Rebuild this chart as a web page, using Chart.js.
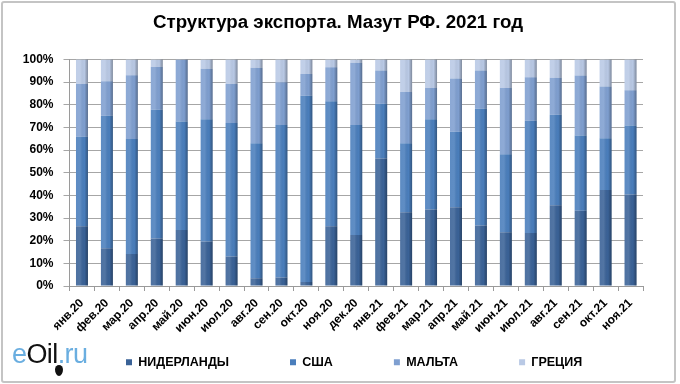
<!DOCTYPE html>
<html>
<head>
<meta charset="utf-8">
<script src="https://cdn.jsdelivr.net/npm/chart.js@4/dist/chart.umd.min.js"></script>
<style>
    html, body { margin: 0; padding: 0; background: #fff; }
    #wrap { position: relative; width: 680px; height: 384px; }
    #frame { position: absolute; left: 1px; top: 1px; width: 671px; height: 378px; border: 2px solid #c4c4c4; border-radius: 3px; pointer-events: none; }
    #logo { position: absolute; left: 12px; top: 339px; font-family: Arial, 'Liberation Sans', sans-serif; font-size: 27px; letter-spacing: -0.6px; }
    #logo .b { color: #6aaee0; }
    #logo .k { color: #111; }
    #drop { position: absolute; left: 43px; top: 26px; width: 8px; height: 11px; background: #111; border-radius: 50% 50% 50% 50% / 40% 40% 60% 60%; }
</style>
</head>
<body>
<div id="wrap">
    <canvas id="chartExport" width="680" height="384"></canvas>
    <div id="logo"><span class="b">e</span><span class="k">Oil</span><span class="b">.ru</span><div id="drop"></div></div>
    <div id="frame"></div>
</div>
<script>
(function() {
    // Доли по странам, %
    var months = ['янв.20', 'фев.20', 'мар.20', 'апр.20', 'май.20', 'июн.20', 'июл.20', 'авг.20',
        'сен.20', 'окт.20', 'ноя.20', 'дек.20', 'янв.21', 'фев.21', 'мар.21', 'апр.21',
        'май.21', 'июн.21', 'июл.21', 'авг.21', 'сен.21', 'окт.21', 'ноя.21'];
    var netherlands = [26.4, 16.7, 14.1, 21.0, 24.7, 19.6, 13.0, 3.4, 3.7, 1.8, 26.4, 22.5,
        56.3, 32.6, 33.8, 34.8, 26.7, 23.7, 23.4, 35.6, 33.2, 42.4, 40.4];
    var usa = [39.5, 58.4, 50.8, 56.8, 47.9, 54.0, 58.9, 59.6, 67.4, 82.2, 55.1, 48.6,
        24.1, 30.4, 39.8, 33.3, 51.5, 34.5, 49.5, 40.0, 33.2, 22.8, 30.4];
    var malta = [23.3, 15.3, 28.1, 18.9, 27.4, 22.3, 17.3, 33.3, 18.8, 9.6, 15.1, 27.4,
        14.7, 22.6, 13.8, 23.5, 16.9, 29.2, 19.2, 16.3, 26.5, 22.9, 15.6];
    var greece = [10.8, 9.6, 7.0, 3.3, 0.0, 4.1, 10.8, 3.7, 10.1, 6.4, 3.4, 1.5,
        4.9, 14.4, 12.6, 8.4, 4.9, 12.6, 7.9, 8.1, 7.1, 11.9, 13.6];
    var yTicks = [0, 10, 20, 30, 40, 50, 60, 70, 80, 90, 100];

    var seriesNames = ['НИДЕРЛАНДЫ', 'США', 'МАЛЬТА', 'ГРЕЦИЯ'];
    var seriesColors = ['#3a6297', '#4a7ebc', '#7f9fd0', '#b9c9e5'];

    var LEGEND_PAD = 61;

    // объём "цилиндра": блик слева, тень справа
    var shadePlugin = {
        id: 'shade',
        afterDatasetsDraw: function(chart) {
            var ctx = chart.ctx;
            chart.data.datasets.forEach(function(ds, di) {
                var meta = chart.getDatasetMeta(di);
                meta.data.forEach(function(bar) {
                    var p = bar.getProps(['x', 'y', 'base', 'width'], true);
                    var l = p.x - p.width / 2, r = p.x + p.width / 2;
                    var top = Math.min(p.y, p.base), h = Math.abs(p.base - p.y);
                    if (h < 0.5) return;
                    var g = ctx.createLinearGradient(l, 0, r, 0);
                    g.addColorStop(0, 'rgba(255,255,255,0.10)');
                    g.addColorStop(0.35, 'rgba(255,255,255,0.12)');
                    g.addColorStop(0.7, 'rgba(0,0,0,0.0)');
                    g.addColorStop(1, 'rgba(0,0,0,0.32)');
                    ctx.save();
                    ctx.fillStyle = g;
                    ctx.fillRect(l, top, r - l, h);
                    ctx.restore();
                });
            });
        }
    };

    // легенда: одна строка, низкая, с широкими промежутками, правее логотипа;
    // заголовок центрируем по всему полотну
    var legendPlace = {
        id: 'legendPlace',
        afterInit: function(chart) {
            var lg = chart.legend;
            if (!lg || lg._patched) return;
            var fit = lg.fit;
            lg.fit = function() {
                var w = this.maxWidth;
                this.maxWidth = 1200;
                fit.apply(this, arguments);
                this.maxWidth = w;
                this.width = w;
                this.height = 30;
            };
            lg._patched = true;
        },
        afterLayout: function(chart) {
            var lg = chart.legend;
            if (lg) {
                lg.left = 126 - LEGEND_PAD;
                lg.right = 1200;
                lg.top = 362 - 6 - LEGEND_PAD;
            }
            var tb = chart.titleBlock;
            if (tb) {
                tb.left = 0;
                tb.right = 676;
            }
        }
    };

    var datasets = [netherlands, usa, malta, greece].map(function(values, i) {
        return {
            label: seriesNames[i],
            data: values,
            backgroundColor: seriesColors[i],
            borderWidth: 0,
            barPercentage: 0.96,
            categoryPercentage: 0.5
        };
    });

    new Chart(document.getElementById('chartExport'), {
        type: 'bar',
        data: { labels: months, datasets: datasets },
        plugins: [shadePlugin, legendPlace],
        options: {
            responsive: false,
            animation: false,
            layout: { padding: { left: 2, right: 37, top: 0, bottom: 6 } },
            plugins: {
                title: {
                    display: true,
                    text: 'Структура экспорта. Мазут РФ. 2021 год',
                    color: '#000',
                    font: { family: 'Arial, "Liberation Sans"', size: 18.7, weight: 'bold' },
                    padding: { top: 12, bottom: 25 }
                },
                legend: {
                    position: 'bottom',
                    align: 'start',
                    labels: {
                        color: '#000',
                        font: { family: 'Arial, "Liberation Sans"', size: 12.5, weight: 'bold' },
                        boxWidth: 6,
                        boxHeight: 6,
                        padding: LEGEND_PAD
                    }
                },
                tooltip: { enabled: false }
            },
            scales: {
                x: {
                    stacked: true,
                    afterFit: function(scale) { scale.height = 62; },
                    grid: { drawOnChartArea: false, color: '#9a9a9a', tickLength: 5 },
                    border: { color: '#9a9a9a' },
                    ticks: {
                        color: '#000',
                        maxRotation: 45,
                        minRotation: 45,
                        autoSkip: false,
                        padding: 5,
                        font: { family: 'Arial, "Liberation Sans"', size: 12, weight: 'bold' }
                    }
                },
                y: {
                    stacked: true,
                    min: 0,
                    max: 100,
                    afterFit: function(scale) { scale.width = 67.5; },
                    afterBuildTicks: function(scale) {
                        scale.ticks = yTicks.map(function(v) { return { value: v }; });
                    },
                    grid: { color: '#a6a6a6', tickLength: 6 },
                    border: { color: '#9a9a9a' },
                    ticks: {
                        color: '#000',
                        padding: 10,
                        font: { family: 'Arial, "Liberation Sans"', size: 12, weight: 'bold' },
                        callback: function(v) { return v + '%'; }
                    }
                }
            }
        }
    });
})();
</script>
</body>
</html>
